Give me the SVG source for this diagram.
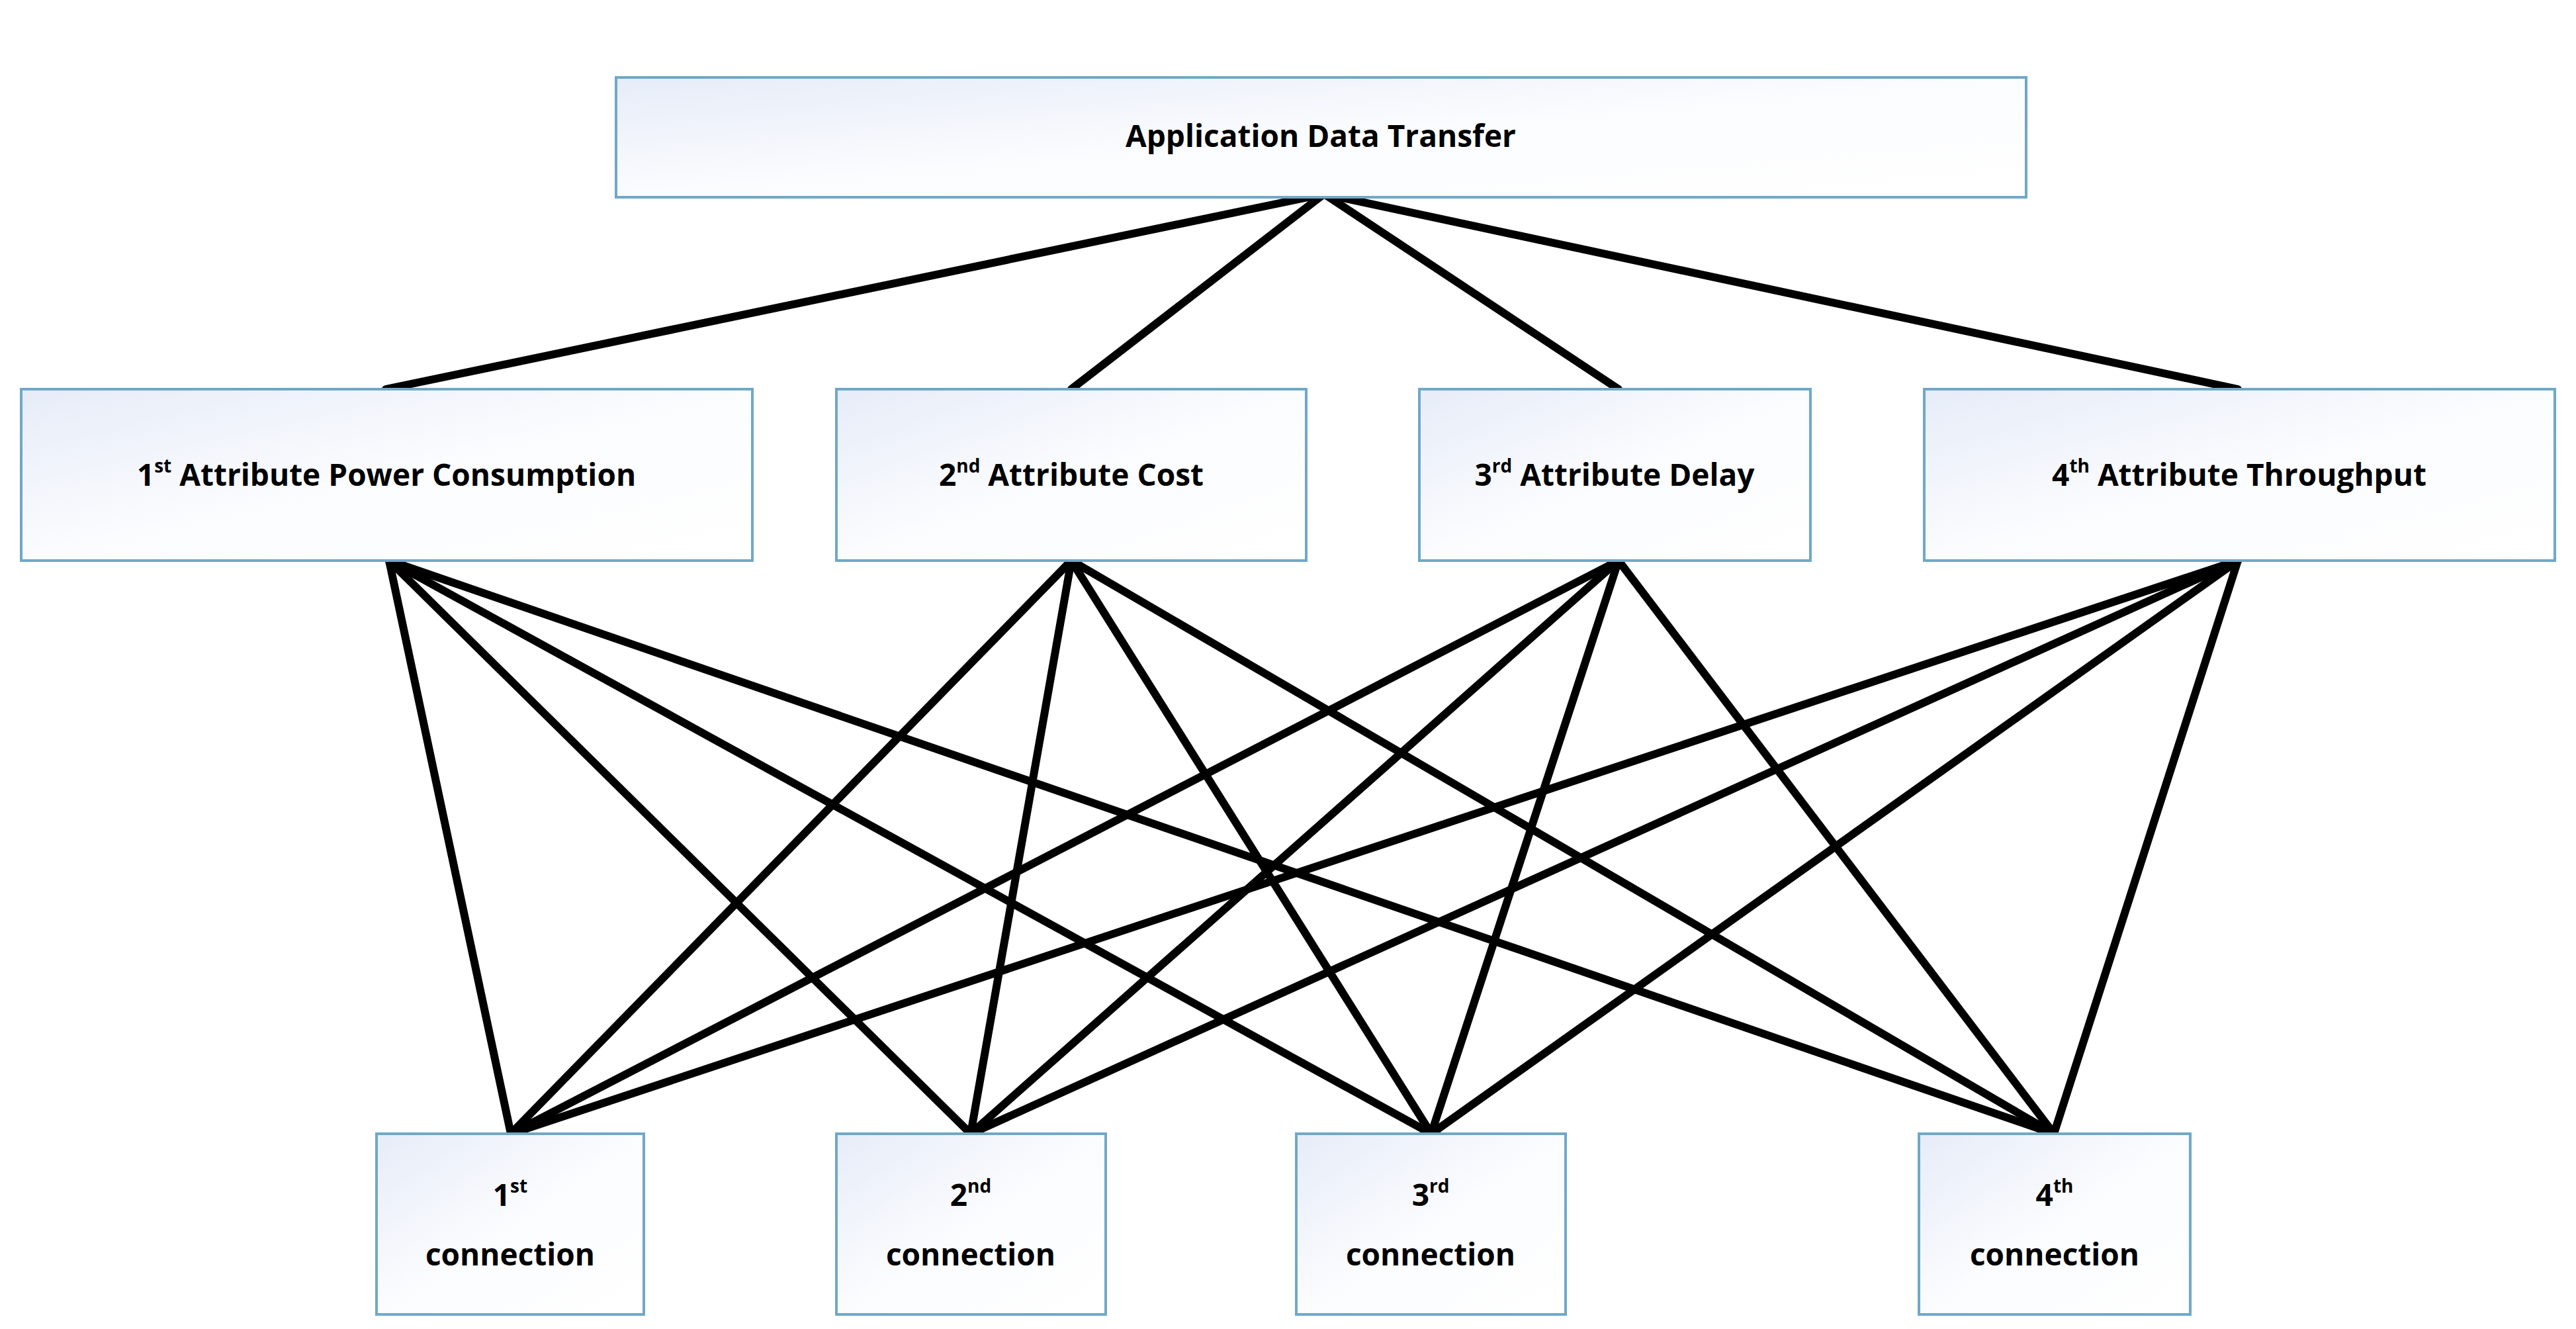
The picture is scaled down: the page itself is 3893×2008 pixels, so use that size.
<svg xmlns="http://www.w3.org/2000/svg" width="3893" height="2008" viewBox="0 0 3893 2008">
<style>
.box{fill:url(#g);stroke:#6fa8c8;stroke-width:4}
.t{font-family:"Open Sans","Liberation Sans",sans-serif;font-weight:bold;font-size:46px;fill:#000;text-anchor:middle}
.s{font-size:28px}
.c line{stroke:#000;stroke-width:12;stroke-linecap:round}
</style>
<defs>
<linearGradient id="g" x1="0" y1="0" x2="1" y2="1">
<stop offset="0" stop-color="#e6ecf8"/><stop offset="0.5" stop-color="#fbfcfe"/><stop offset="1" stop-color="#ffffff"/>
</linearGradient>
</defs>
<rect width="3893" height="2008" fill="#fff"/>
<g class="c" id="connectors">
<line x1="2001" y1="293" x2="583" y2="588"/>
<line x1="2001" y1="293" x2="1619" y2="588"/>
<line x1="2001" y1="293" x2="2446" y2="588"/>
<line x1="2001" y1="293" x2="3382" y2="588"/>
<line x1="588" y1="847" x2="772" y2="1713"/>
<line x1="588" y1="847" x2="1467" y2="1713"/>
<line x1="588" y1="847" x2="2163" y2="1713"/>
<line x1="588" y1="847" x2="3104" y2="1713"/>
<line x1="1619" y1="847" x2="772" y2="1713"/>
<line x1="1619" y1="847" x2="1467" y2="1713"/>
<line x1="1619" y1="847" x2="2163" y2="1713"/>
<line x1="1619" y1="847" x2="3104" y2="1713"/>
<line x1="2446" y1="847" x2="772" y2="1713"/>
<line x1="2446" y1="847" x2="1467" y2="1713"/>
<line x1="2446" y1="847" x2="2163" y2="1713"/>
<line x1="2446" y1="847" x2="3104" y2="1713"/>
<line x1="3382" y1="847" x2="772" y2="1713"/>
<line x1="3382" y1="847" x2="1467" y2="1713"/>
<line x1="3382" y1="847" x2="2163" y2="1713"/>
<line x1="3382" y1="847" x2="3104" y2="1713"/>
</g>
<g id="top"><rect class="box" x="931" y="117" width="2131" height="181"/><text class="t" x="1996" y="222">Application Data Transfer</text></g>
<g id="a1"><rect class="box" x="32" y="588" width="1105" height="259"/><text class="t" x="584" y="734">1<tspan class="s" dy="-20">st</tspan><tspan dy="20">  Attribute Power Consumption</tspan></text></g>
<g id="a2"><rect class="box" x="1264" y="588" width="710" height="259"/><text class="t" x="1619" y="734">2<tspan class="s" dy="-20">nd</tspan><tspan dy="20"> Attribute Cost</tspan></text></g>
<g id="a3"><rect class="box" x="2145" y="588" width="591" height="259"/><text class="t" x="2440" y="734">3<tspan class="s" dy="-20">rd</tspan><tspan dy="20">  Attribute Delay</tspan></text></g>
<g id="a4"><rect class="box" x="2908" y="588" width="953" height="259"/><text class="t" x="3384" y="734">4<tspan class="s" dy="-20">th</tspan><tspan dy="20">  Attribute Throughput</tspan></text></g>
<g id="c1"><rect class="box" x="569" y="1713" width="404" height="273"/><text class="t" x="771" y="1822">1<tspan class="s" dy="-20">st</tspan></text><text class="t" x="771" y="1912">connection</text></g>
<g id="c2"><rect class="box" x="1264" y="1713" width="407" height="273"/><text class="t" x="1467" y="1822">2<tspan class="s" dy="-20">nd</tspan></text><text class="t" x="1467" y="1912">connection</text></g>
<g id="c3"><rect class="box" x="1959" y="1713" width="407" height="273"/><text class="t" x="2162" y="1822">3<tspan class="s" dy="-20">rd</tspan></text><text class="t" x="2162" y="1912">connection</text></g>
<g id="c4"><rect class="box" x="2900" y="1713" width="410" height="273"/><text class="t" x="3105" y="1822">4<tspan class="s" dy="-20">th</tspan></text><text class="t" x="3105" y="1912">connection</text></g>
</svg>
